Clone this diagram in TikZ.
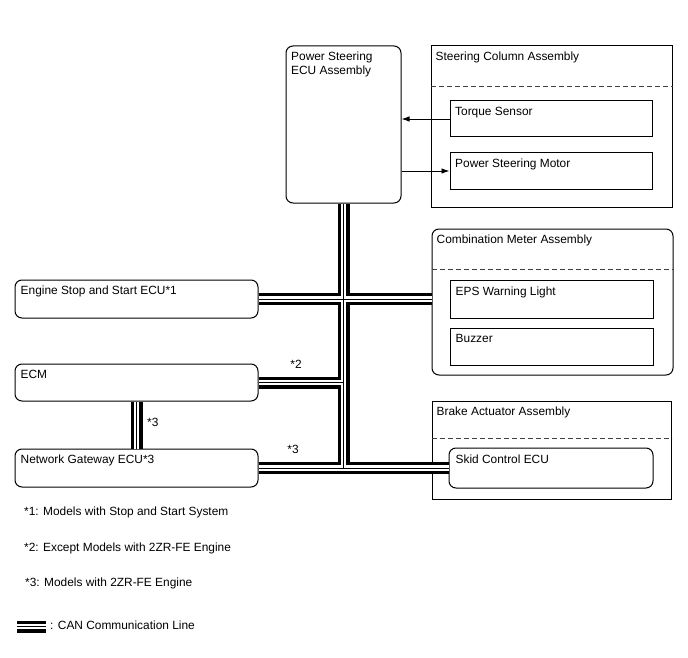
\documentclass[tikz,border=0pt]{standalone}
\usepackage{fontspec}
\setmainfont{Liberation Sans}
\usetikzlibrary{arrows.meta}

\tikzset{
  ecubox/.style={draw, line width=1pt, rounded corners=7pt, inner sep=0pt},
  partbox/.style={draw, line width=1pt, inner sep=0pt},
  boxtext/.style={anchor=north west, inner sep=0pt, align=left},
  note/.style={anchor=base west, inner sep=0pt},
  sepline/.style={draw=black!75, line width=0.8pt, dash pattern=on 5pt off 3pt},
  sigline/.style={line width=0.9pt, -{Latex[length=8pt,width=5.5pt]}},
  canbus/.style={line width=12pt, draw=black,
    postaction={draw=white, line width=5.6pt,
      postaction={draw=black, line width=1pt}}},
}

\begin{document}
\begin{tikzpicture}[x=1pt, y=-1pt, every node/.append style={font=\fontsize{11.9}{14}\selectfont}]
  \useasboundingbox (0,0) rectangle (688,658);

  \node[ecubox, minimum width=115pt, minimum height=157pt] (ps) at (343.5,124.5) {};
  \node[boxtext] (psText) at ([shift={(5.5,6.5)}]ps.north west) {Power Steering\\ECU Assembly};

  \node[partbox, minimum width=241pt, minimum height=161pt] (sca) at (551.5,126.5) {};
  \node[boxtext] (scaText) at ([shift={(5,6.5)}]sca.north west) {Steering Column Assembly};
  \draw[sepline] ([yshift=-40.7pt]sca.north west) -- ([yshift=-40.7pt]sca.north east);
  \node[partbox, minimum width=202pt, minimum height=36pt] (ts) at (551,119) {};
  \node[boxtext] (tsText) at ([shift={(5.5,6.5)}]ts.north west) {Torque Sensor};
  \node[partbox, minimum width=202pt, minimum height=36pt] (psm) at (551,171) {};
  \node[boxtext] (psmText) at ([shift={(5.5,6.5)}]psm.north west) {Power Steering Motor};

  \node[ecubox, minimum width=241pt, minimum height=146pt] (cma) at (552.5,302) {};
  \node[boxtext] (cmaText) at ([shift={(5,6.5)}]cma.north west) {Combination Meter Assembly};
  \draw[sepline] ([yshift=-40.7pt]cma.north west) -- ([yshift=-40.7pt]cma.north east);
  \node[partbox, minimum width=203pt, minimum height=38pt] (epsw) at (551.5,299) {};
  \node[boxtext] (epswText) at ([shift={(6,7)}]epsw.north west) {EPS Warning Light};
  \node[partbox, minimum width=203pt, minimum height=37pt] (buz) at (551.5,346.5) {};
  \node[boxtext] (buzText) at ([shift={(6,7)}]buz.north west) {Buzzer};

  \node[partbox, minimum width=239pt, minimum height=98pt] (baa) at (551.5,450) {};
  \node[boxtext] (baaText) at ([shift={(5,6.5)}]baa.north west) {Brake Actuator Assembly};
  \draw[sepline] ([yshift=-37.5pt]baa.north west) -- ([yshift=-37.5pt]baa.north east);
  \node[ecubox, minimum width=204pt, minimum height=40pt] (skid) at (551,468) {};
  \node[boxtext] (skidText) at ([shift={(7,7.5)}]skid.north west) {Skid Control ECU};

  \node[ecubox, minimum width=243pt, minimum height=38pt] (ess) at (136.5,299) {};
  \node[boxtext] (essText) at ([shift={(6,6.5)}]ess.north west) {Engine Stop and Start ECU*1};
  \node[ecubox, minimum width=243pt, minimum height=37pt] (ecm) at (136.5,382.5) {};
  \node[boxtext] (ecmText) at ([shift={(6,6.5)}]ecm.north west) {ECM};
  \node[ecubox, minimum width=243pt, minimum height=38pt] (ngw) at (136.5,468) {};
  \node[boxtext] (ngwText) at ([shift={(6,6.5)}]ngw.north west) {Network Gateway ECU*3};

  \draw[sigline] (ts.west) -- (ts.west -| ps.east);
  \draw[sigline] (psm.west -| ps.east) -- (psm.west);

  \coordinate (jEcm) at (ps.south |- ecm.east);
  \coordinate (jNgw) at (ps.south |- ngw.east);
  \draw[canbus] (ps.south) -- (jNgw)
    (ess.east) -- (ess.east -| cma.west)
    (ecm.east) -- (jEcm)
    (ngw.east) -- (ngw.east -| skid.west)
    (ecm.south) -- (ngw.north);

  \node[note, anchor=base] (tagTwo) at (296,368) {*2};
  \node[note, anchor=base] (tagThree) at (293,453) {*3};
  \node[note] (tagThreeV) at (147,426) {*3};

  \node[note] (fnOne) at (24,515) {*1: Models with Stop and Start System};
  \node[note] (fnTwo) at (24,551) {*2: Except Models with 2ZR-FE Engine};
  \node[note] (fnThree) at (25,586) {*3: Models with 2ZR-FE Engine};

  \coordinate (canA) at (17,626.5);
  \coordinate (canB) at (46,626.5);
  \draw[canbus] (canA) -- (canB);
  \node[note] (canText) at (50,629) {: CAN Communication Line};
\end{tikzpicture}
\end{document}
